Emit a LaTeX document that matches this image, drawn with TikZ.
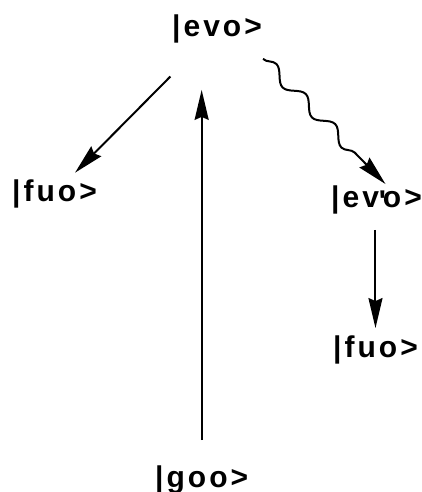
\documentclass[tikz,border=0pt]{standalone}
\usepackage{fontspec}
\newfontfamily\ketfont[LetterSpace=10]{Liberation Sans Bold}
\usetikzlibrary{arrows.meta,decorations.pathmorphing}
\tikzset{
  ket/.style={font=\ketfont\fontsize{30}{36}\selectfont, inner sep=0pt, anchor=base west},
  arr/.style={-{Stealth[length=30pt,width=14pt,inset=3pt]}, line width=2pt},
  wavy/.style={arr, decorate, decoration={snake, amplitude=6pt, segment length=42pt, post length=32pt}},
}
\begin{document}
\begin{tikzpicture}[x=1pt,y=-1pt]
\useasboundingbox (0,0) rectangle (421,492);
% states
\node[ket] (evo) at (172,37) {|evo>};
\node[ket] (fuoL) at (12,201) {|fuo>};
\node[ket] (evp) at (331,207) {|ev\kern0pt\rlap{\raisebox{-4pt}{'}}\kern4pt o>};
\node[ket] (fuoR) at (333,357) {|fuo>};
\node[ket] (goo) at (155,487) {|goo>};
% transitions
\draw[arr, shorten <=46pt, shorten >=9pt] (evo) -- (fuoL);
\draw[arr, shorten <=25pt, shorten >=46pt] (goo.north) -- (goo.north |- evo.south);
\draw[wavy] ([xshift=1pt,yshift=-15pt]evo.south east) -- ([xshift=9pt,yshift=1pt]evp.north);
\draw[arr, shorten <=16pt, shorten >=7pt] (fuoR.north |- evp.south) -- (fuoR.north);
\end{tikzpicture}
\end{document}
